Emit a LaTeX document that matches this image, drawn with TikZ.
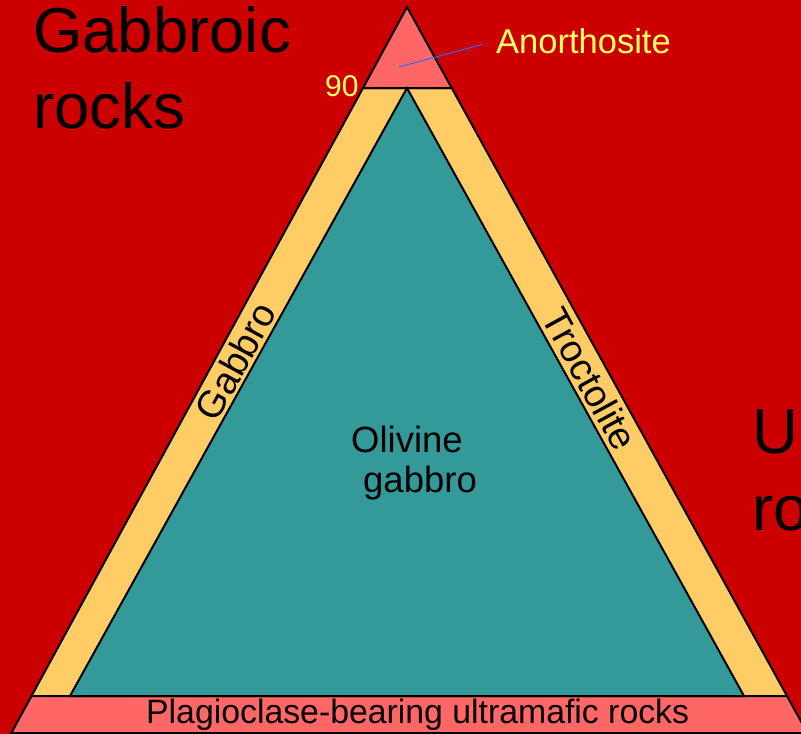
\documentclass[tikz,border=0pt]{standalone}
\usepackage{fontspec}
\setmainfont{Liberation Sans}
\definecolor{bgred}{HTML}{CC0000}
\definecolor{pinkfill}{HTML}{FF6666}
\definecolor{bandyel}{HTML}{FFCC66}
\definecolor{tealfill}{HTML}{339999}
\definecolor{txtyel}{HTML}{FFFF66}
\definecolor{linkblue}{HTML}{3366FF}
\begin{document}
\begin{tikzpicture}[x=1pt,y=-1pt,
  region/.style={draw=black,line width=2pt,line join=miter},
  lbl/.style={inner sep=0pt,text=black},
  ylbl/.style={inner sep=0pt,text=txtyel}]
\useasboundingbox (0,0) rectangle (801,734);
\begin{scope}
\clip (0,0) rectangle (801,734);
\fill[bgred] (0,0) rectangle (801,734);
\path[region,fill=bandyel] (363,88) -- (451.7,88) -- (787,696) -- (31.5,696) -- cycle;
\path[region,fill=pinkfill] (407,7) -- (451.7,88) -- (363,88) -- cycle;
\path[region,fill=pinkfill] (31.5,696) -- (787,696) -- (807.4,733) -- (11.3,733) -- cycle;
\path[region,fill=tealfill] (407,88) -- (744,696) -- (70,696) -- cycle;

\node[lbl,anchor=base west,align=left,font=\fontsize{63.5}{76}\selectfont] (gabbroic) at (33,128) {Gabbroic\\rocks};
\node[lbl,anchor=base west,align=left,font=\fontsize{63.5}{77}\selectfont] (ultra) at (752,530) {U\\ro};
\node[ylbl,anchor=base west,font=\fontsize{34.5}{40}\selectfont] (anor) at (496,53) {Anorthosite};
\node[ylbl,anchor=base west,font=\fontsize{30}{36}\selectfont] (ninety) at (325,96) {90};
\coordinate (anorpt) at (399,67);
\draw[linkblue,line width=1pt,shorten >=14pt] (anorpt) -- (anor.west);
\node[lbl,rotate=61.3,font=\fontsize{38}{42}\selectfont] (gabbro) at (235.5,361) {Gabbro};
\node[lbl,rotate=-61.3,font=\fontsize{38}{42}\selectfont] (troct) at (590,379) {Troctolite};
\node[lbl,anchor=base west,align=left,font=\fontsize{36.5}{40}\selectfont] (olivine) at (351,492) {Olivine\\\hspace{12pt}gabbro};
\node[lbl,anchor=base west,font=\fontsize{33.8}{38}\selectfont] (plag) at (146,723) {Plagioclase-bearing ultramafic rocks};
\end{scope}
\end{tikzpicture}
\end{document}
